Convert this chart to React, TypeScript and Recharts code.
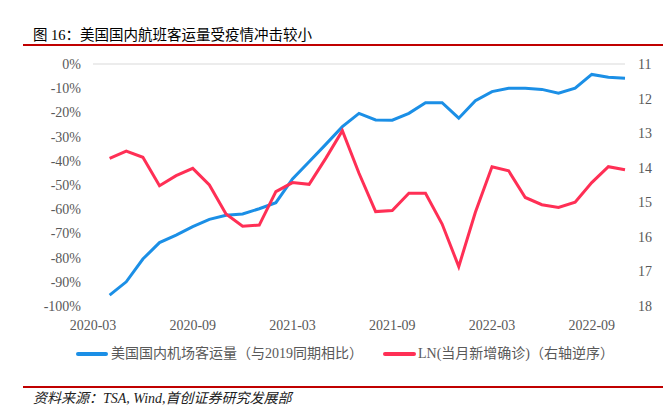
import React from 'react';
import { LineChart, Line, XAxis, YAxis } from 'recharts';

// monthly points, 2020-04 .. 2022-11
const months = [
  '2020-04', '2020-05', '2020-06', '2020-07', '2020-08', '2020-09', '2020-10', '2020-11',
  '2020-12', '2021-01', '2021-02', '2021-03', '2021-04', '2021-05', '2021-06', '2021-07',
  '2021-08', '2021-09', '2021-10', '2021-11', '2021-12', '2022-01', '2022-02', '2022-03',
  '2022-04', '2022-05', '2022-06', '2022-07', '2022-08', '2022-09', '2022-10', '2022-11',
];
// 美国国内机场客运量（与2019同期相比）, %
const paxVs2019 = [
  -95.5, -90, -80.6, -73.8, -70.7, -67.2, -64.2, -62.5,
  -62, -59.8, -57.3, -47.5, -40.4, -33.2, -25.9, -20.4,
  -23.1, -23.2, -20.4, -16, -16, -22.4, -15.2, -11.4,
  -10, -10, -10.5, -12.1, -10, -4.3, -5.5, -5.9,
];
// LN(当月新增确诊), right axis reversed
const lnNewCases = [
  13.73, 13.52, 13.7, 14.52, 14.23, 14.02, 14.5, 15.34,
  15.69, 15.66, 14.69, 14.43, 14.48, 13.73, 12.93, 14.16,
  15.27, 15.24, 14.74, 14.74, 15.63, 16.86, 15.29, 13.97,
  14.09, 14.86, 15.07, 15.15, 15.0, 14.43, 13.97, 14.06,
];
const xTickLabels = ['2020-03', '2020-09', '2021-03', '2021-09', '2022-03', '2022-09'];
const leftTicks = [0, -10, -20, -30, -40, -50, -60, -70, -80, -90, -100];
const rightTicks = [11, 12, 13, 14, 15, 16, 17, 18];

const monthIndex = (s: string) => {
  const [y, m] = s.split('-').map(Number);
  return (y - 2020) * 12 + (m - 3);
};

const data = months.map((m, i) => ({
  idx: monthIndex(m),
  pax: paxVs2019[i],
  ln: lnNewCases[i],
}));
const xTicks = xTickLabels.map(monthIndex);

const BLUE = '#1b8fe6';
const RED = '#ff2f55';
const GRAY = '#595959';
const SERIF = '"Liberation Serif", "Times New Roman", "Noto Sans CJK SC", serif';
const tickStyle = { fill: GRAY, fontSize: 14, fontFamily: SERIF };

export default function App() {
  return (
    <div style={{ position: 'absolute', left: 0, top: 0, width: 670, height: 415, background: '#fff', fontFamily: SERIF }}>
      <div style={{ position: 'absolute', left: 33, top: 25, fontSize: 14.5, color: '#000', whiteSpace: 'nowrap', lineHeight: '20px' }}>
        图 16：美国国内航班客运量受疫情冲击较小
      </div>
      <div style={{ position: 'absolute', left: 23, top: 44, width: 640, height: 1.5, background: '#c00000' }} />

      <div style={{ position: 'absolute', left: 0, top: 0 }}>
        <LineChart width={670} height={345} data={data} margin={{ top: 60, right: 0, bottom: 0, left: 0 }}>
          <XAxis
            xAxisId="top"
            orientation="top"
            type="number"
            dataKey="idx"
            domain={[0, 32]}
            ticks={xTicks}
            height={4}
            tickSize={4}
            tick={false}
            axisLine={{ stroke: '#d9d9d9' }}
            tickLine={{ stroke: '#d9d9d9' }}
          />
          <XAxis
            xAxisId="bottom"
            type="number"
            dataKey="idx"
            domain={[0, 32]}
            ticks={xTicks}
            tickFormatter={(v: number) => xTickLabels[xTicks.indexOf(v)] ?? ''}
            height={39}
            tickSize={0}
            tickMargin={14}
            axisLine={false}
            tickLine={false}
            tick={tickStyle}
            interval={0}
          />
          <YAxis
            yAxisId="left"
            domain={[-100, 0]}
            ticks={leftTicks}
            tickFormatter={(v: number) => `${v}%`}
            width={93}
            tickSize={0}
            tickMargin={12}
            axisLine={false}
            tickLine={false}
            tick={tickStyle}
            interval={0}
          />
          <YAxis
            yAxisId="right"
            orientation="right"
            domain={[11, 18]}
            reversed
            ticks={rightTicks}
            width={45}
            tickSize={0}
            tickMargin={13}
            axisLine={false}
            tickLine={false}
            tick={{ ...tickStyle, textAnchor: 'start' }}
            interval={0}
          />
          <Line
            xAxisId="bottom"
            yAxisId="left"
            dataKey="pax"
            stroke={BLUE}
            strokeWidth={3}
            dot={false}
            isAnimationActive={false}
            strokeLinejoin="miter"
          />
          <Line
            xAxisId="bottom"
            yAxisId="right"
            dataKey="ln"
            stroke={RED}
            strokeWidth={3}
            dot={false}
            isAnimationActive={false}
            strokeLinejoin="miter"
          />
        </LineChart>
      </div>

      <div style={{ position: 'absolute', left: 0, top: 344, width: 670, height: 20, fontSize: 14, color: GRAY, whiteSpace: 'nowrap' }}>
        <div style={{ position: 'absolute', left: 76, top: 8, width: 32, height: 3.5, background: BLUE, borderRadius: 2 }} />
        <div style={{ position: 'absolute', left: 111, top: 0, lineHeight: '20px' }}>美国国内机场客运量（与2019同期相比）</div>
        <div style={{ position: 'absolute', left: 383, top: 8, width: 33, height: 3.5, background: RED, borderRadius: 2 }} />
        <div style={{ position: 'absolute', left: 418, top: 0, lineHeight: '20px' }}>LN(当月新增确诊)（右轴逆序）</div>
      </div>

      <div style={{ position: 'absolute', left: 23, top: 386, width: 640, height: 1.5, background: '#c00000' }} />
      <div style={{ position: 'absolute', left: 33, top: 389, fontSize: 14, fontStyle: 'italic', color: '#222', whiteSpace: 'nowrap', lineHeight: '20px' }}>
        资料来源：TSA, Wind,首创证券研究发展部
      </div>
    </div>
  );
}
